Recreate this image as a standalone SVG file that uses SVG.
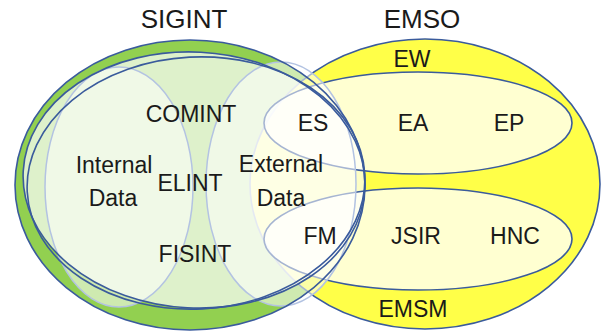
<svg xmlns="http://www.w3.org/2000/svg" width="602" height="331" viewBox="0 0 602 331">
  <style>
    .strong { fill: none; stroke: #3a5b9c; stroke-width: 1.6; }
    .light { stroke: #b3c3e2; stroke-width: 1.5; }
    .pale { fill: #ffffff; fill-opacity: 0.55; }
    .lbl { font-family: "Liberation Sans", Arial, sans-serif; font-size: 23px; fill: #1a1a1a; text-anchor: middle; }
    .ttl { font-family: "Liberation Sans", Arial, sans-serif; font-size: 26px; fill: #1a1a1a; text-anchor: middle; }
  </style>
  <rect width="602" height="331" fill="#ffffff"/>

  <g id="sigint-outer">
    <ellipse cx="190" cy="185" rx="175" ry="145" fill="#92d050"/>
  </g>
  <g id="emso">
    <ellipse cx="425" cy="184" rx="175" ry="145" fill="#ffff3a" fill-opacity="0.93" stroke="#3a5b9c" stroke-width="1.6"/>
  </g>
  <g id="sigint-inner">
    <ellipse cx="194" cy="180" rx="171" ry="128" transform="rotate(3 194 180)" fill="#ffffff" fill-opacity="0.7"/>
  </g>
  <g id="ew">
    <ellipse cx="418" cy="123" rx="154" ry="51" fill="#ffffff" fill-opacity="0.75" stroke="#3a5b9c" stroke-width="1.6"/>
  </g>
  <g id="emsm">
    <ellipse cx="418" cy="239" rx="154" ry="51" fill="#ffffff" fill-opacity="0.75" stroke="#3a5b9c" stroke-width="1.6"/>
  </g>
  <g id="internal-data">
    <ellipse class="pale light" cx="119" cy="187" rx="74" ry="120"/>
  </g>
  <g id="external-data">
    <ellipse class="pale light" cx="281" cy="184" rx="75" ry="122"/>
  </g>

  <g id="outlines">
    <ellipse class="strong" cx="190" cy="185" rx="175" ry="145"/>
    <ellipse class="strong" cx="194" cy="180" rx="171" ry="128" transform="rotate(3 194 180)"/>
    <ellipse class="strong" cx="196" cy="183" rx="169" ry="126" transform="rotate(-3 196 183)"/>
  </g>

  <g id="labels">
    <text class="ttl" x="184" y="28">SIGINT</text>
    <text class="ttl" x="422" y="28">EMSO</text>
    <text class="lbl" x="191" y="122">COMINT</text>
    <text class="lbl" x="114" y="173">Internal</text>
    <text class="lbl" x="113" y="206">Data</text>
    <text class="lbl" x="190" y="191">ELINT</text>
    <text class="lbl" x="195" y="262">FISINT</text>
    <text class="lbl" x="281" y="172">External</text>
    <text class="lbl" x="281" y="206">Data</text>
    <text class="lbl" x="412" y="67">EW</text>
    <text class="lbl" x="313" y="131">ES</text>
    <text class="lbl" x="413" y="131">EA</text>
    <text class="lbl" x="509" y="131">EP</text>
    <text class="lbl" x="320" y="244">FM</text>
    <text class="lbl" x="416" y="244">JSIR</text>
    <text class="lbl" x="515" y="244">HNC</text>
    <text class="lbl" x="413" y="317">EMSM</text>
  </g>
</svg>
